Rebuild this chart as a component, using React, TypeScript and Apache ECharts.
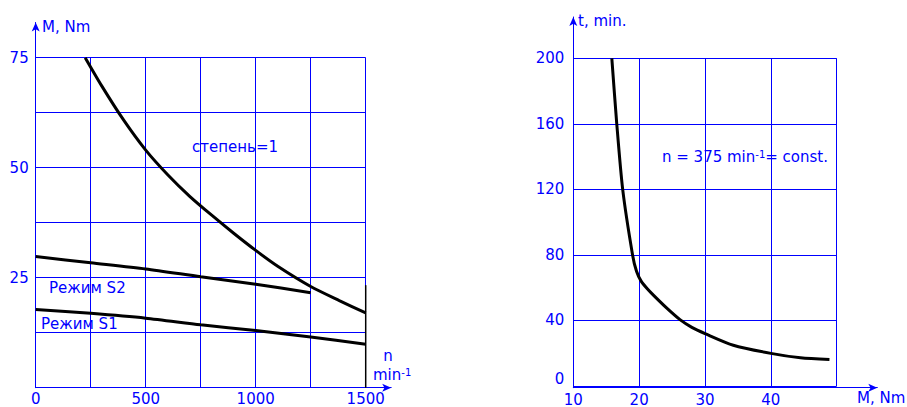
import React, { useEffect, useRef } from 'react';
import * as echarts from 'echarts';

// ---- data ----
// Left chart: torque M [Nm] vs speed n [min^-1]
const curveDegree1: [number, number][] = [
  [225, 75], [300, 68.6], [400, 60.8], [500, 54], [600, 48.4], [700, 43.5],
  [800, 39.2], [900, 35.1], [1000, 31.2], [1100, 27.6], [1250, 23], [1380, 19.8], [1500, 17],
];
const modeS2: [number, number][] = [
  [0, 29.8], [250, 28.4], [500, 27.0], [750, 25.2], [1000, 23.5], [1250, 21.6],
];
const modeS1: [number, number][] = [
  [0, 17.8], [250, 16.9], [500, 15.8], [750, 14.3], [1000, 13.0], [1250, 11.5], [1500, 9.9],
];
const edgeSegment: [number, number][] = [[1500, 0], [1500, 23.3]];
// Right chart: time t [min] vs torque M [Nm]
const timeCurve: [number, number][] = [
  [15.85, 200], [16.6, 160], [17.5, 120], [19.0, 80], [19.6, 70], [20.3, 64], [21.2, 59.5],
  [22.2, 55.3], [24.2, 47.5], [26.2, 40.5], [28, 35.8], [30, 32], [34.3, 24.9], [40, 19.9],
  [44.5, 17.2], [48.9, 16.2],
];

const leftXLabels = [0, 500, 1000, 1500];
const leftYLabels = [25, 50, 75];
const rightXLabels = [10, 20, 30, 40];

const BLUE = '#0000ff';
const FONT = "'DejaVu Sans', Verdana, sans-serif";
const FS = 15;

export default function App() {
  const ref = useRef<HTMLDivElement>(null);
  useEffect(() => {
    if (!ref.current) return;
    const chart = echarts.init(ref.current, undefined, { renderer: 'svg' });
    const labelStyle = { color: BLUE, fontSize: FS, fontFamily: FONT };
    const arrowAxis = (gridIndex: number) => ({
      gridIndex,
      type: 'value',
      min: 0,
      max: 1,
      axisLine: {
        show: true,
        onZero: false,
        symbol: ['none', 'arrow'],
        symbolSize: [6, 9],
        lineStyle: { color: BLUE, width: 1 },
      },
      axisTick: { show: false },
      axisLabel: { show: false },
      splitLine: { show: false },
    });
    const line = (data: [number, number][], axis: number, width = 3, smooth: number | boolean = 0.25) => ({
      type: 'line',
      xAxisIndex: axis,
      yAxisIndex: axis,
      data,
      smooth,
      symbol: 'none',
      clip: false,
      lineStyle: { color: '#000', width },
      z: 5,
    });
    const txt = (text: string, x: number, y: number, align = 'left', rich?: any) => ({
      type: 'text',
      x,
      y,
      style: {
        text,
        fill: BLUE,
        fontSize: FS,
        fontFamily: FONT,
        align,
        verticalAlign: 'middle',
        rich,
      },
    });
    const supRich = {
      s: { fontSize: 10, fontFamily: FONT, fill: BLUE, verticalAlign: 'top' },
    };

    chart.setOption({
      animation: false,
      grid: [
        { left: 35.7, top: 57.7, width: 330, height: 330 },
        { left: 35.7, top: 22.5, width: 355.5, height: 365.2 },
        { left: 573.3, top: 58.3, width: 263.4, height: 329.4 },
        { left: 573.3, top: 17, width: 304, height: 370.7 },
      ],
      xAxis: [
        {
          gridIndex: 0,
          type: 'value',
          min: 0,
          max: 1500,
          interval: 250,
          axisLine: { show: false },
          axisTick: { show: false },
          splitLine: { show: true, lineStyle: { color: BLUE, width: 1 } },
          axisLabel: {
            ...labelStyle,
            margin: 4,
            formatter: (v: number) => (leftXLabels.includes(v) ? String(v) : ''),
          },
        },
        arrowAxis(1),
        {
          gridIndex: 2,
          type: 'value',
          min: 10,
          max: 50,
          interval: 10,
          axisLine: { show: false },
          axisTick: { show: false },
          splitLine: { show: true, lineStyle: { color: BLUE, width: 1 } },
          axisLabel: {
            ...labelStyle,
            margin: 6,
            formatter: (v: number) => (rightXLabels.includes(v) ? String(v) : ''),
          },
        },
        arrowAxis(3),
      ],
      yAxis: [
        {
          gridIndex: 0,
          type: 'value',
          min: 0,
          max: 75,
          interval: 12.5,
          axisLine: { show: false },
          axisTick: { show: false },
          splitLine: { show: true, lineStyle: { color: BLUE, width: 1 } },
          axisLabel: {
            ...labelStyle,
            margin: 7,
            formatter: (v: number) => (leftYLabels.includes(v) ? String(v) : ''),
          },
        },
        arrowAxis(1),
        {
          gridIndex: 2,
          type: 'value',
          min: 0,
          max: 200,
          interval: 40,
          axisLine: { show: false },
          axisTick: { show: false },
          splitLine: { show: true, lineStyle: { color: BLUE, width: 1 } },
          axisLabel: {
            ...labelStyle,
            margin: 9,
            formatter: (v: number) => (v === 0 ? '{z|0}' : String(v)),
            rich: {
              z: { color: BLUE, fontSize: FS, fontFamily: FONT, padding: [0, 0, 15, 0] },
            },
          },
        },
        arrowAxis(3),
      ],
      series: [
        line(curveDegree1, 0),
        line(modeS2, 0),
        line(modeS1, 0),
        line(edgeSegment, 0, 1.5, false),
        line(timeCurve, 2, 3, 0.25),
      ],
      graphic: [
        txt('M, Nm', 42, 27),
        txt('n', 388, 356, 'center'),
        txt('min{s|-1}', 373, 375, 'left', supRich),
        txt('степень=1', 192, 147),
        txt('Режим S2', 49, 288),
        txt('Режим S1', 41, 324),
        txt('t, min.', 578, 21),
        txt('M, Nm', 857, 398),
        txt('n = 375 min{s|-1}= const.', 662, 157, 'left', supRich),
      ],
    });
    return () => chart.dispose();
  }, []);
  return (
    <div
      ref={ref}
      style={{ position: 'fixed', left: 0, top: 0, width: 907, height: 407, background: '#fff' }}
    />
  );
}
